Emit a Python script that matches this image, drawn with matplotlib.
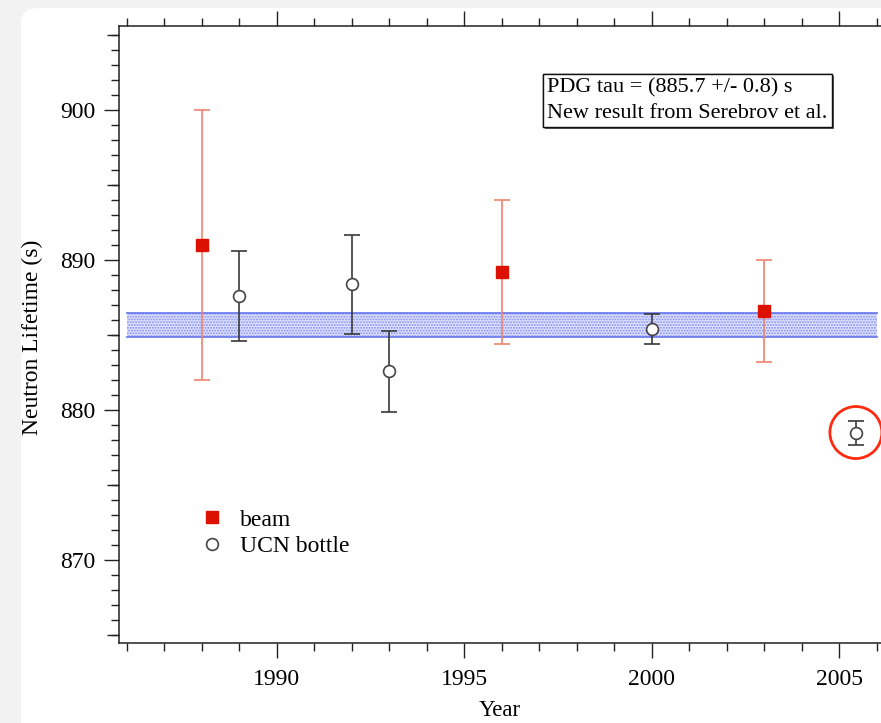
import matplotlib
matplotlib.use('Agg')
import matplotlib.pyplot as plt
from matplotlib.ticker import MultipleLocator, FixedLocator
from matplotlib.patches import Ellipse, FancyBboxPatch
import matplotlib.patheffects as pe

plt.rcParams['font.family'] = ['Liberation Serif', 'DejaVu Serif']
plt.rcParams['hatch.color'] = '#7f8cf2'

# neutron lifetime measurements
beam_year = [1988, 1996, 2003]
beam_tau = [891.0, 889.2, 886.6]
beam_err = [9.0, 4.8, 3.4]

ucn_year = [1989, 1992, 1993, 2000, 2005.45]
ucn_tau = [887.6, 888.4, 882.6, 885.4, 878.5]
ucn_err = [3.0, 3.3, 2.7, 1.0, 0.8]

pdg_tau = 885.7
pdg_err = 0.8
band_years = [1986, 2006]

new_result = (2005.45, 878.5)

fig = plt.figure(figsize=(8.81, 7.23), dpi=100)
fig.patch.set_facecolor('#f2f2f2')
card = FancyBboxPatch((21 / 881, -0.5), 1.2, 1.5 - 8 / 723,
                      boxstyle='round,pad=0,rounding_size=0.02',
                      transform=fig.transFigure, facecolor='white', edgecolor='none', zorder=-5)
fig.patches.append(card)

xmin, xmax = 1985.8, 2007.2
ax = fig.add_axes([119 / 881, 80 / 723, (xmax - xmin) * 37.5 / 881, 617 / 723])
ax.set_facecolor('none')
ax.set_xlim(xmin, xmax)
ax.set_ylim(864.47, 905.6)

# PDG band
ax.fill_between(band_years, pdg_tau - pdg_err, pdg_tau + pdg_err, facecolor='#e2e5ff',
                edgecolor='#7f8cf2', hatch='......', linewidth=0, zorder=1)
ax.plot(band_years, [pdg_tau + pdg_err] * 2, color='#6f7ef0', lw=1.3, zorder=2)
ax.plot(band_years, [pdg_tau - pdg_err] * 2, color='#6f7ef0', lw=1.3, zorder=2)

ax.errorbar(beam_year, beam_tau, yerr=beam_err, fmt='none', ecolor='#f2826e', elinewidth=1.2,
            capsize=6, capthick=1.2, zorder=3)
ax.plot(beam_year, beam_tau, 's', color='#dd1100', markersize=8, label='beam', zorder=4)

ax.errorbar(ucn_year, ucn_tau, yerr=ucn_err, fmt='none', ecolor='#3a3a3a', elinewidth=1.2,
            capsize=5.5, capthick=1.2, zorder=3)
ax.plot(ucn_year, ucn_tau, 'o', mfc='white', mec='#444444', mew=1.2, markersize=8.5,
        label='UCN bottle', zorder=4)

# highlight the new result
ax.add_patch(Ellipse(new_result, 52 / 37.5, 52 / 15, fill=False, edgecolor='#ff2a10', lw=2.0,
                     zorder=5))

ax.spines['right'].set_visible(False)
for s in ['left', 'top', 'bottom']:
    ax.spines[s].set_linewidth(1.1)
    ax.spines[s].set_color('#222222')

ax.xaxis.set_major_locator(MultipleLocator(5))
ax.xaxis.set_minor_locator(MultipleLocator(1))
ax.yaxis.set_major_locator(MultipleLocator(10))
ax.yaxis.set_minor_locator(MultipleLocator(1))
ax.tick_params(which='both', direction='out', top=True, right=False, width=1.0, color='#222222',
               labelsize=17)
ax.tick_params(which='major', length=11)
ax.tick_params(which='minor', length=5.5)
ax.tick_params(axis='x', which='major', pad=8)
ax.tick_params(axis='y', which='major', pad=6)

# medium ticks at the fives on the y axis
sec = ax.secondary_yaxis('left')
sec.yaxis.set_major_locator(FixedLocator([865, 875, 885, 895, 905]))
sec.tick_params(length=8.5, width=1.0, color='#222222', labelleft=False)
sec.spines['left'].set_visible(False)

leg = ax.legend(loc='upper left', bbox_to_anchor=(200 / 881, 1 - 509 / 723),
                bbox_transform=fig.transFigure, frameon=False, fontsize=17, handlelength=1.0,
                handletextpad=0.7, labelspacing=0.2, borderpad=0, borderaxespad=0)

t = fig.text(547 / 881, 1 - 78 / 723, 'PDG tau = (885.7 +/- 0.8) s\nNew result from Serebrov et al.',
             fontsize=16, va='top', ha='left', linespacing=1.45,
             bbox=dict(boxstyle='square,pad=0.2', facecolor='white', edgecolor='#111111', lw=1.0))
t.get_bbox_patch().set_path_effects([
    pe.withSimplePatchShadow(offset=(1.5, -1.5), shadow_rgbFace='#555555', alpha=0.9),
    pe.Normal()])

fig.text(32 / 881, 1 - 337 / 723, 'Neutron Lifetime (s)', rotation=90, fontsize=17,
         ha='center', va='center')
fig.text(500 / 881, 1 - 700 / 723, 'Year', fontsize=16.5, ha='center', va='top')

fig.savefig('out.png', dpi=100, facecolor=fig.get_facecolor())
